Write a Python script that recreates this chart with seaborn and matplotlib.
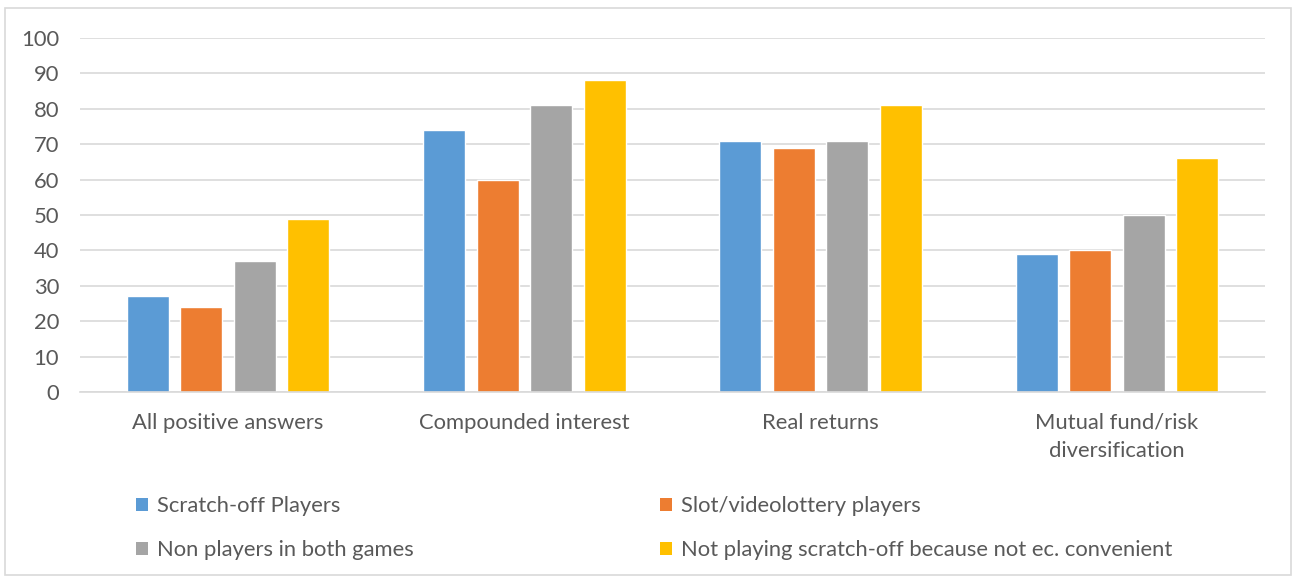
import matplotlib
matplotlib.use("Agg")
import matplotlib.pyplot as plt
import seaborn as sns
import pandas as pd
from matplotlib.patches import Patch, Rectangle

categories = ["All positive answers", "Compounded interest", "Real returns",
              "Mutual fund/risk\ndiversification"]
series_names = ["Scratch-off Players", "Slot/videolottery players",
                "Non players in both games",
                "Not playing scratch-off because not ec. convenient"]
scratch = [27, 74, 71, 39]
slot = [24, 60, 69, 40]
non_players = [37, 81, 71, 50]
not_playing = [49, 88, 81, 66]
colors = ["#5B9BD5", "#ED7D31", "#A5A5A5", "#FFC000"]
yticks = [0, 10, 20, 30, 40, 50, 60, 70, 80, 90, 100]

rows = []
for name, vals in zip(series_names, [scratch, slot, non_players, not_playing]):
    for c, v in zip(categories, vals):
        rows.append({"category": c, "series": name, "value": v})
df = pd.DataFrame(rows)

sns.set_theme(style="white")
plt.rcParams["font.family"] = ["Lato", "DejaVu Sans"]
text_color = "#595959"
fs = 15.8

fig = plt.figure(figsize=(12.95, 5.79), dpi=100)
ax = fig.add_axes([80 / 1295, 1 - 392 / 579, (1265 - 80) / 1295, (392 - 38) / 579])

sns.barplot(data=df, x="category", y="value", hue="series", palette=colors,
            order=categories, hue_order=series_names, width=0.723, gap=0.215,
            ax=ax, legend=False, saturation=1)

ax.set_ylim(0, 100)
ax.set_yticks(yticks)
ax.set_xlim(-0.5, 3.5)
ax.set_xlabel("")
ax.set_ylabel("")
ax.yaxis.grid(True, color="#D9D9D9", linewidth=1.2)
ax.set_axisbelow(True)
for s in ["top", "right", "left"]:
    ax.spines[s].set_visible(False)
ax.spines["bottom"].set_color("#D9D9D9")
ax.spines["bottom"].set_linewidth(1.2)
ax.tick_params(axis="both", length=0, colors=text_color, labelsize=fs)
ax.tick_params(axis="x", pad=15)
ax.tick_params(axis="y", pad=15)
for lbl in ax.get_xticklabels():
    lbl.set_linespacing(1.5)

# figure border
fig.patches.append(Rectangle((5 / 1295, 1 - 575 / 579), 1286 / 1295, 567 / 579,
                             transform=fig.transFigure, fill=False,
                             edgecolor="#D9D9D9", linewidth=1.2))

handles = [Patch(facecolor=c, edgecolor="none") for c in colors]
leg_kw = dict(frameon=False, fontsize=fs, handlelength=0.55, handleheight=0.55,
              handletextpad=0.4, labelspacing=1.1, borderaxespad=0, borderpad=0,
              labelcolor=text_color, loc="upper left")
leg1 = fig.legend([handles[0], handles[2]], [series_names[0], series_names[2]],
                  bbox_to_anchor=(136 / 1295, 1 - 496 / 579), **leg_kw)
leg2 = fig.legend([handles[1], handles[3]], [series_names[1], series_names[3]],
                  bbox_to_anchor=(660 / 1295, 1 - 496 / 579), **leg_kw)

fig.savefig("out.png", dpi=100)
